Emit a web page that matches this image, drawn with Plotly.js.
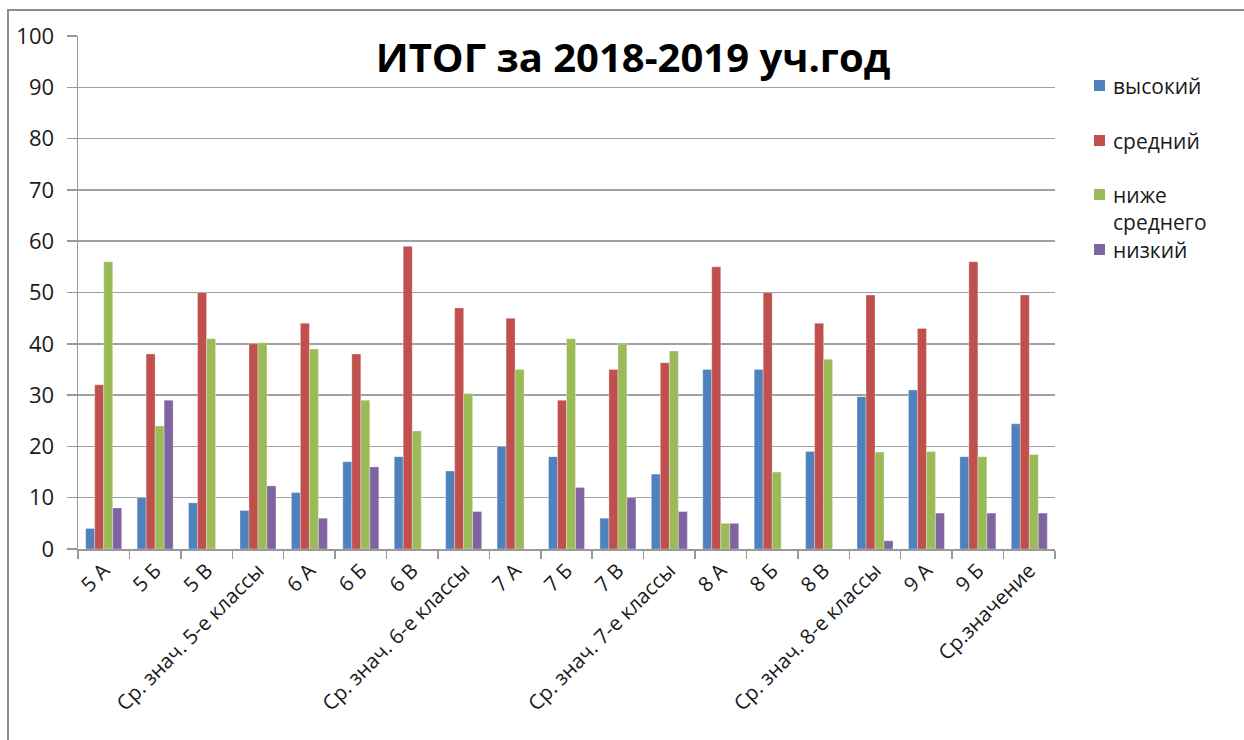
<!DOCTYPE html>
<html>
<head>
<meta charset="utf-8">
<script src="https://cdn.plot.ly/plotly-3.0.1.min.js"></script>
<style>
  html, body { margin: 0; padding: 0; width: 1244px; height: 740px; overflow: hidden; background: #fff; }
  #frame { position: absolute; left: 7px; top: 9px; width: 1400px; height: 900px; border: 2px solid #8c8c8c; box-sizing: border-box; }
  #chart { position: absolute; left: 0; top: 0; width: 1244px; height: 740px; }
</style>
</head>
<body>
<div id="frame"></div>
<div id="chart"></div>
<script>
const categories = ["5 А", "5 Б", "5 В", "Ср. знач. 5-е классы", "6 А", "6 Б", "6 В", "Ср. знач. 6-е классы",
  "7 А", "7 Б", "7 В", "Ср. знач. 7-е классы", "8 А", "8 Б", "8 В", "Ср. знач. 8-е классы", "9 А", "9 Б", "Ср.значение"];
const seriesNames = ["высокий", "средний", "ниже<br>среднего", "низкий"];
const vysokiy  = [4, 10, 9, 7.5, 11, 17, 18, 15.2, 20, 18, 6, 14.6, 35, 35, 19, 29.7, 31, 18, 24.4];
const sredniy  = [32, 38, 50, 40, 44, 38, 59, 47, 45, 29, 35, 36.3, 55, 50, 44, 49.5, 43, 56, 49.5];
const nizheSr  = [56, 24, 41, 40.2, 39, 29, 23, 30.3, 35, 41, 40, 38.6, 5, 15, 37, 18.9, 19, 18, 18.4];
const nizkiy   = [8, 29, 0, 12.3, 6, 16, 0, 7.3, 0, 12, 10, 7.3, 5, 0, 0, 1.6, 7, 7, 7];
const colors = ["#4F81BD", "#C0504D", "#9BBB59", "#8064A2"];
const allSeries = [vysokiy, sredniy, nizheSr, nizkiy];
const yTicks = [0, 10, 20, 30, 40, 50, 60, 70, 80, 90, 100];

const font = "'Open Sans', 'DejaVu Sans', sans-serif";

const traces = allSeries.map((vals, i) => ({
  type: 'bar',
  x: categories,
  y: vals,
  name: seriesNames[i],
  marker: { color: colors[i], line: { color: 'rgba(255,255,255,0.6)', width: 0.5 } },
  hoverinfo: 'x+y+name'
}));

// legend drawn as annotations + squares
const legendY = [86, 141, 195, 250];
const annotations = [];
const shapes = [];
const px2y = p => 1 - (p - 36) / (549 - 36);
seriesNames.forEach((n, i) => {
  const parts = n.split('<br>');
  parts.forEach((p, j) => {
    annotations.push({
      xref: 'paper', yref: 'paper',
      x: (1112 - 78) / (1055 - 78), y: px2y(legendY[i] + j * 27),
      xanchor: 'left', yanchor: 'middle', showarrow: false, borderpad: 0,
      text: p, font: { family: font, size: 21, color: '#1a1a1a' }
    });
  });
  shapes.push({
    type: 'rect', xref: 'paper', yref: 'paper',
    x0: (1094 - 78) / (1055 - 78), x1: (1105 - 78) / (1055 - 78),
    y0: px2y(legendY[i] + 5), y1: px2y(legendY[i] - 6),
    fillcolor: colors[i], line: { width: 0 }
  });
});

const layout = {
  width: 1244, height: 740,
  paper_bgcolor: 'rgba(0,0,0,0)', plot_bgcolor: 'rgba(0,0,0,0)',
  margin: { l: 78, r: 189, t: 36, b: 191 },
  barmode: 'group', bargap: 0.3, bargroupgap: 0,
  showlegend: false,
  title: {
    text: '<b>ИТОГ за 2018-2019 уч.год</b>',
    font: { family: font, size: 40, color: '#000' },
    x: 633 / 1244, xref: 'container', y: 1 - 58 / 740, yref: 'container', xanchor: 'center', yanchor: 'middle'
  },
  xaxis: {
    type: 'category', tickangle: -45, tickson: 'boundaries',
    ticks: 'outside', ticklen: 8, tickcolor: '#999', tickwidth: 1.5,
    showline: true, linecolor: '#999', linewidth: 1.5,
    tickfont: { family: font, size: 20.5, color: '#1a1a1a' },
    showgrid: false
  },
  yaxis: {
    range: [0, 100], tickvals: yTicks, ticks: 'outside', ticklen: 10, tickcolor: '#999', tickwidth: 1.5,
    showline: true, linecolor: '#999', linewidth: 1.5,
    gridcolor: '#a0a0a0', gridwidth: 1.5, zeroline: false,
    ticklabelstandoff: 8,
    tickfont: { family: font, size: 22, color: '#1a1a1a' }
  },
  annotations: annotations,
  shapes: shapes
};

Plotly.newPlot('chart', traces, layout, { displayModeBar: false, staticPlot: true });
</script>
</body>
</html>
